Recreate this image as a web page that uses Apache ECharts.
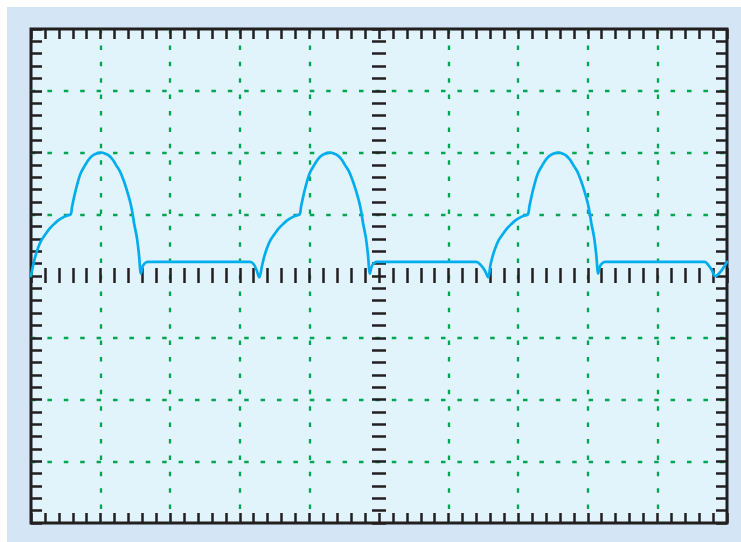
<!DOCTYPE html>
<html><head><meta charset="utf-8">
<script src="https://cdn.jsdelivr.net/npm/echarts@6/dist/echarts.min.js"></script>
<style>
html,body{margin:0;padding:0;background:#fff;width:741px;height:542px;overflow:hidden}
#c{position:absolute;left:7px;top:7px;width:734px;height:535px}
</style>
</head><body><div id="c"></div>
<script>
// Screen: 10 horizontal divisions x 8 vertical divisions
const xRange = [0, 10];
const yRange = [-4, 4];
const majorStep = 1;
const minorStep = 0.2;

const period1 = [
  [0.00,0.00],[0.03,0.17],[0.06,0.31],[0.10,0.45],[0.15,0.58],[0.21,0.68],[0.27,0.77],[0.33,0.84],[0.39,0.90],[0.46,0.95],[0.52,0.98],[0.57,1.00],
  [0.59,1.12],[0.61,1.23],[0.64,1.38],[0.68,1.55],[0.72,1.68],[0.78,1.80],[0.84,1.90],[0.90,1.96],[0.96,1.99],[1.01,2.00],[1.07,1.98],[1.12,1.95],
  [1.17,1.89],[1.22,1.80],[1.28,1.69],[1.33,1.55],[1.38,1.38],[1.42,1.22],[1.45,1.07],[1.48,0.86],[1.52,0.63],[1.55,0.36],[1.58,0.04],
  [1.60,0.14],[1.63,0.20],[1.68,0.23],[3.15,0.23],[3.20,0.19],[3.24,0.10],[3.28,-0.02]
];
const period2 = [
  [3.32,0.17],[3.35,0.31],[3.39,0.45],[3.44,0.58],[3.50,0.68],[3.56,0.77],[3.62,0.84],[3.68,0.90],[3.75,0.95],[3.81,0.98],[3.86,1.00],
  [3.88,1.12],[3.90,1.23],[3.93,1.38],[3.97,1.55],[4.01,1.68],[4.07,1.80],[4.13,1.90],[4.19,1.96],[4.25,1.99],[4.30,2.00],[4.36,1.98],[4.41,1.95],
  [4.46,1.89],[4.51,1.80],[4.57,1.69],[4.62,1.55],[4.67,1.38],[4.71,1.22],[4.74,1.07],[4.77,0.86],[4.81,0.63],[4.84,0.36],[4.87,0.04],
  [4.89,0.14],[4.92,0.20],[4.97,0.23],[6.40,0.23],[6.46,0.18],[6.52,0.09],[6.57,-0.02]
];
const period3 = [
  [6.60,0.17],[6.63,0.31],[6.67,0.45],[6.72,0.58],[6.78,0.68],[6.84,0.77],[6.90,0.84],[6.96,0.90],[7.03,0.95],[7.09,0.98],[7.14,1.00],
  [7.16,1.12],[7.18,1.23],[7.21,1.38],[7.25,1.55],[7.29,1.68],[7.35,1.80],[7.41,1.90],[7.47,1.96],[7.53,1.99],[7.58,2.00],[7.64,1.98],[7.69,1.95],
  [7.74,1.89],[7.79,1.80],[7.85,1.69],[7.90,1.55],[7.95,1.38],[7.99,1.22],[8.02,1.07],[8.05,0.86],[8.09,0.63],[8.12,0.36],[8.15,0.04],
  [8.17,0.14],[8.20,0.20],[8.25,0.23],[9.68,0.23],[9.73,0.18],[9.78,0.10],[9.83,0.00],[10.00,0.23]
];
const trace = period1.concat(period2, period3);

const INK = '#231f20';
const GRN = '#00a651';
const NONE = 'rgba(0,0,0,0)';
const xSplitColors = [NONE, GRN, GRN, GRN, GRN, NONE, GRN, GRN, GRN, GRN, NONE];
const ySplitColors = [NONE, GRN, GRN, GRN, NONE, GRN, GRN, GRN, NONE];

const mainGrid = {left: 24, top: 22, right: 14, bottom: 19};

function tickAxis(gridIndex, range, position, len) {
  return {
    type: 'value', gridIndex, min: range[0], max: range[1], interval: minorStep, position,
    axisLine: {show: false, onZero: false},
    axisTick: {show: true, inside: true, length: len, lineStyle: {color: INK, width: 2.5}},
    axisLabel: {show: false}, splitLine: {show: false}
  };
}
function hiddenAxis(gridIndex, range) {
  return {type: 'value', gridIndex, min: range[0], max: range[1], show: false,
    axisLine: {onZero: false}, splitLine: {show: false}};
}
function splitAxis(gridIndex, range, colors) {
  return {
    type: 'value', gridIndex, min: range[0], max: range[1], interval: majorStep,
    axisLine: {show: false, onZero: false}, axisTick: {show: false}, axisLabel: {show: false},
    splitLine: {show: true, lineStyle: {color: colors, width: 2.3, type: [4.5, 11.9]}}
  };
}

const chart = echarts.init(document.getElementById('c'), null, {renderer: 'canvas'});
chart.setOption({
  animation: false,
  backgroundColor: '#d4e5f5',
  grid: [
    Object.assign({show: true, backgroundColor: '#e1f3fb', borderColor: INK, borderWidth: 3}, mainGrid),
    Object.assign({show: false}, mainGrid),
    {left: 24, right: 14, top: 261, height: 15},
    {left: 365, width: 14, top: 22, bottom: 19}
  ],
  xAxis: [
    tickAxis(0, xRange, 'bottom', 10),
    tickAxis(0, xRange, 'top', 10),
    splitAxis(1, xRange, xSplitColors),
    tickAxis(2, xRange, 'bottom', 15),
    hiddenAxis(3, xRange)
  ],
  yAxis: [
    tickAxis(0, yRange, 'left', 11),
    tickAxis(0, yRange, 'right', 11),
    splitAxis(1, yRange, ySplitColors),
    hiddenAxis(2, yRange),
    tickAxis(3, yRange, 'left', 14)
  ],
  series: [{
    type: 'line', xAxisIndex: 0, yAxisIndex: 0, data: trace,
    showSymbol: false, smooth: 0.35, z: 5,
    lineStyle: {color: '#00aeef', width: 2.7, join: 'round', cap: 'round'}
  }]
});
</script>
</body></html>
